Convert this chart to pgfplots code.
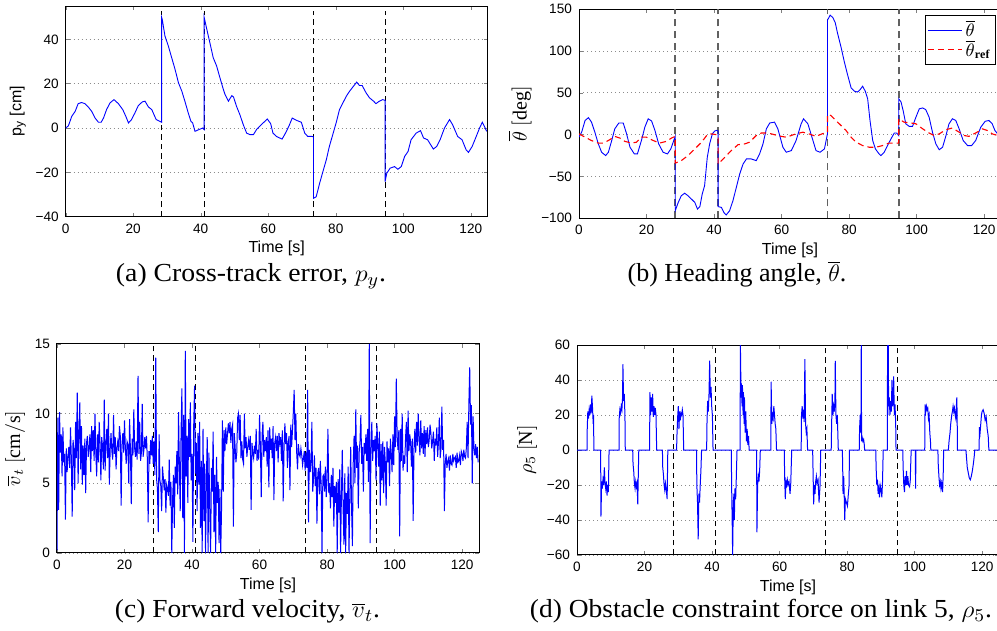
\documentclass[border=0pt]{standalone}
\usepackage{fontspec}
\setmainfont{Liberation Serif}
\newfontfamily\hv{Liberation Sans}
\usepackage{graphicx}
\usepackage{pgfplots}
\pgfplotsset{compat=1.18}
\pgfplotsset{mstyle/.style={
  scale only axis, width=211pt, xmin=0, xmax=125, xtick={0,20,...,120},
  tick align=inside, major tick length=2pt,
  ymajorgrids, grid style={dash pattern=on 0.5pt off 1.5pt, black!45, line width=0.4pt},
  axis line style={line width=0.5pt},
  tick label style={font=\hv\fontsize{6.8}{8}\selectfont},
  /pgf/number format/assume math mode=true,
  xlabel={\hv\fontsize{8}{9}\selectfont Time [s]},
  xlabel style={yshift=3pt},
  anchor=south west, clip=true,
  every axis plot/.append style={line width=0.45pt},
}, vl/.style={black, line width=0.5pt, dash pattern=on 2.8pt off 2pt},
   gl/.style={black!62, line width=0.8pt, dash pattern=on 3.5pt off 2.5pt, forget plot},
   bl/.style={blue, line width=0.45pt}}
\tikzset{capt/.style={anchor=base, font=\fontsize{13}{15}\selectfont}}
\begin{document}
\begin{tikzpicture}
\path[use as bounding box] (0pt,0pt) rectangle (498.5pt,315.5pt);
% ---------------- (a)
\begin{axis}[mstyle, at={(32.85pt,207.15pt)}, height=105.3pt, ymin=-40, ymax=55,
  ytick={-40,-20,0,20,40}, yticklabels={−40,−20,0,20,40},
  ylabel={\hv\fontsize{8}{9}\selectfont p\textsubscript{y} [cm]}, ylabel style={yshift=-2pt}]
\addplot[vl] coordinates {(28.4,-40)(28.4,53)};
\addplot[vl] coordinates {(41.0,-40)(41.0,53)};
\addplot[vl] coordinates {(73.4,-40)(73.4,53)};
\addplot[vl] coordinates {(94.6,-40)(94.6,53)};
\addplot[bl] coordinates {(0,0)(0.8,1)(1.8,5.3)(2.8,7.5)(3.7,11)(4.7,11.5)(5.7,11)(6.7,9.5)(7.7,7.5)(8.7,4.5)(9.7,2.6)(10.5,2.6)(11.2,4.5)(12.1,8.3)(13.1,11.3)(14.3,12.8)(15.6,11)(16.9,8.3)(17.8,5.3)(18.6,2.3)(19.5,3.8)(20.5,6.8)(21.5,10.1)(22.7,11.8)(23.5,12.1)(24.5,9.5)(25.5,8.3)(26.8,3.8)(27.9,3.0)(28.4,2.6)
(28.4,50)(28.6,49)(29.4,41.5)(30.4,37)(31.4,31.7)(32.4,26.4)(33.4,20.4)(34.4,16.6)(35.3,12.1)(36.3,6.8)(37.1,3)(37.6,2.3)(38.3,-1.5)(39,-1)(39.8,-0.5)(40.6,0)(41.0,-0.7)
(41.0,50)(41.8,44.5)(42.7,38.5)(43.7,31.7)(44.7,28)(45.7,22.6)(46.7,17.4)(47.2,15.1)(48.2,12.1)(49.2,14.6)(49.7,14)(50.6,9.8)(51.6,6)(52.6,1.5)(53.6,-2.3)(54.6,-3)(55.6,-3)(56.6,-0.5)(57.6,1)(58.7,2.6)(59.7,4.1)(60.7,2)(61.4,-2.3)(62.4,-3.8)(64.1,-5)(65.1,-2.3)(66.1,0.8)(67.1,4.5)(68.3,3.5)(69.8,2.6)(70.8,-2.3)(71.7,-3.8)(73,-3.8)(73.4,-4)
(73.4,-31.7)(74.2,-31)(75.2,-25)(76.2,-19.6)(77.2,-14.3)(78.1,-8.3)(79.1,-3)(80.1,2.3)(81.1,8.3)(82.1,11.3)(83.1,14.3)(84.1,16.6)(85.1,18.6)(86.2,20.7)(87,19.2)(87.8,19.2)(89,15.8)(90,13.6)(91.2,12.1)(91.9,11)(92.9,12.1)(93.9,12.8)(94.6,12.5)
(94.6,-24.2)(95.1,-20.4)(96.1,-18.1)(97.4,-17.4)(98.4,-18.6)(99.4,-17.4)(100.4,-12.8)(101.4,-10.6)(102.3,-5.3)(103.8,-2.3)(105.1,-1.2)(106,-4.5)(107.2,-5.3)(108.9,-9.5)(109.9,-8.3)(110.9,-5.3)(112.2,0)(113.7,3.8)(114.6,1.5)(116.1,-3.8)(117.4,-5.3)(118.6,-9.8)(119.3,-11)(120.4,-8.3)(121.6,-3.8)(122.6,0)(123.4,2.6)(124,0.8)(124.7,-1.5)};
\end{axis}
% ---------------- (b)
\begin{axis}[mstyle, at={(289.5pt,206.35pt)}, height=104.5pt, ymin=-100, ymax=150,
  ytick={-100,-50,0,50,100,150}, yticklabels={−100,−50,0,50,100,150},
  ylabel={\fontsize{10}{12}\selectfont $\overline{\theta}\ [\mathrm{deg}]$}, ylabel style={yshift=-2pt},
  legend style={at={(1,1)}, anchor=north east, xshift=-2.5pt, yshift=-2.8pt, line width=0.5pt,
    font=\fontsize{9}{9}\selectfont, row sep=-3pt, inner sep=1pt, nodes={inner sep=1.5pt}},
  legend cell align=left]
\addplot[gl] coordinates {(28.5,-100)(28.5,150)};
\addplot[gl] coordinates {(41.2,-100)(41.2,150)};
\addplot[gl] coordinates {(73.6,-100)(73.6,150)};
\addplot[gl] coordinates {(94.7,-100)(94.7,150)};
\addplot[bl, forget plot] coordinates {(0,-2.8)(0.8,3.2)(1.8,17)(2.8,20.4)(3.7,15)(4.7,3)(5.7,-10.8)(6.7,-21)(7.9,-25)(8.7,-21)(9.7,-6.8)(10.6,7)(11.8,14)(13.1,14)(14.1,1)(15.1,-15)(16.4,-23)(17.3,-23)(18.5,-6.8)(19.5,9)(20.5,19)(21.5,16.4)(22.5,5)(23.6,-11)(24.9,-21)(26.2,-23)(27.2,-17)(28.5,-2)
(28.5,-91)(29.4,-81)(30.3,-73)(31.3,-70)(32.3,-73)(33.3,-77)(34.3,-81)(35.1,-89)(35.8,-86)(36.5,-71)(37.2,-61)(38.0,-27)(38.7,-11)(39.5,1)(40.2,4.4)(40.8,5.2)(41.2,4.4)
(41.2,-86)(42.2,-87)(42.9,-93)(43.6,-96)(44.6,-91)(45.6,-79)(46.6,-63)(47.6,-47)(48.6,-35)(49.6,-29)(51,-29)(52.5,-31)(53.5,-23)(54.5,-11)(55.5,7)(56.5,14)(57.9,15)(58.9,7)(60.4,-15)(61.4,-21)(62.9,-19)(64.3,-7)(65.8,13)(66.5,19)(67.8,13)(69.3,-7)(70.2,-19)(71.4,-21)(72.7,-17)(73.6,1)
(73.6,137)(74.4,143)(75.2,140)(75.9,134)(76.6,121)(77.6,105)(78.6,87)(79.6,71)(80.6,56)(81.6,52)(82.5,51)(83.3,54)(84.0,58)(84.8,52)(85.5,43)(86.2,17)(87,-7)(87.8,-17)(88.7,-22)(89.4,-25)(90.4,-21)(91.4,-13)(92.4,-5)(93.4,2)(94.1,2)(94.7,-1)
(94.7,43)(95.4,39)(96.0,29)(96.8,13)(97.8,10)(98.8,10)(99.8,21)(100.8,31)(101.8,32)(102.7,30)(103.7,21)(104.7,3)(105.7,-11)(106.7,-18)(107.7,-15)(108.7,-1)(109.6,13)(110.6,19)(111.6,17)(112.6,7)(113.8,-7)(115.1,-13)(116.3,-13)(117.5,-7)(119,9)(120.3,16)(121.4,17)(122.4,13)(123.2,5)(124,1)};
\addplot[red, line width=0.55pt, dash pattern=on 3pt off 2pt, forget plot] coordinates {(0,1)(1.8,-3)(3.7,-7)(5.7,-10)(7.2,-10)(8.7,-7)(10.6,-2)(12.1,-4)(13.6,-8)(15.6,-10)(17,-9)(18.5,-3)(20,-3)(22,-7)(23.9,-10)(25.9,-8)(27.4,-4)(28.5,-2)
(28.5,-34)(30.3,-31)(32.3,-25)(34.3,-17)(36.3,-9)(38.0,0)(39.2,1)(40.7,0)(41.2,-1)
(41.2,-35)(43.2,-27)(45.1,-19)(47.1,-12)(49.1,-11)(50.5,-9)(52.5,-1)(54,2)(56,2)(57.9,0)(59.9,-2)(61.4,-3)(64.3,1)(66.3,3)(68.1,1)(70.2,-2)(72,1)(73.6,3)
(73.6,24)(74.6,23)(76.1,17)(77.6,11)(79.1,5)(80.6,-3)(82.1,-9)(84,-13)(86,-15)(88,-15)(89.9,-13)(91.9,-10)(93.9,-10)(94.7,-10)
(94.7,19)(96.3,15)(98.3,14)(99.8,13)(101.8,7)(103.7,2)(105.2,-1)(106.7,1)(108.7,6)(110.6,8)(112.6,3)(114.1,-1)(115.5,-2)(117.5,2)(119.5,7)(121,5)(122.4,1)(124,-1)};
\addlegendimage{blue, draw=blue, line width=0.45pt}
\addlegendentry{$\overline{\theta}$}
\addlegendimage{red, draw=red, line width=0.65pt, dash pattern=on 3pt off 2pt}
\addlegendentry{$\overline{\theta}_{\mathbf{ref}}$}
\end{axis}
% ---------------- (c)
\begin{axis}[mstyle, at={(28.5pt,39pt)}, height=104.6pt, ymin=0, ymax=15,
  ytick={0,5,10,15},
  ylabel={\fontsize{10}{12}\selectfont $\overline{v}_t\ [\mathrm{cm/s}]$}, ylabel style={yshift=-2pt}]
\addplot[vl] coordinates {(28.5,0)(28.5,15)};
\addplot[vl] coordinates {(41.1,0)(41.1,15)};
\addplot[vl] coordinates {(73.5,0)(73.5,15)};
\addplot[vl] coordinates {(94.7,0)(94.7,15)};
\addplot[blue, line width=0.5pt] coordinates {
(0,0.2)(.25,9.7)(.5,3.1)(.75,10.1)(1,7.2)(1.25,8.5)(1.5,5.5)(1.75,9.0)(2,6.5)(2.25,7.1)(2.5,2.4)(2.75,7.5)(3,5.8)(3.25,6.9)(3.5,7.6)(3.75,6.1)
(4,9.0)(4.25,6.8)(4.5,2.6)(4.75,8.1)(5,7.4)(5.25,4.5)(5.5,9.4)(5.75,6.8)(6,11.5)(6.25,5.0)(6.5,8.7)(6.75,10.8)(7,6.0)(7.25,9.1)(7.5,4.9)(7.75,7.7)
(8,5.6)(8.25,8.2)(8.5,4.3)(8.75,7.9)(9,8.4)(9.25,6.9)(9.5,7.5)(9.75,8.5)(10,5.8)(10.25,9.1)(10.5,7.3)(10.75,8.8)(11,6.6)(11.25,10.0)(11.5,7.2)(11.75,5.5)
(12,8.5)(12.25,6.5)(12.5,9.4)(12.75,7.9)(13,5.2)(13.25,8.3)(13.5,7.6)(13.75,6.0)(14,11.0)(14.25,5.9)(14.5,7.8)(14.75,8.9)(15,6.8)(15.25,10.0)(15.5,4.9)(15.75,7.4)
(16,8.6)(16.25,7.3)(16.5,6.7)(16.75,9.9)(17,7.1)(17.25,8.3)(17.5,6.0)(17.75,7.6)(18,8.0)(18.25,7.3)(18.5,9.1)(18.75,8.4)(19,3.4)(19.25,7.8)(19.5,8.6)(19.75,7.2)
(20,9.5)(20.25,7.5)(20.5,6.4)(20.75,8.0)(21,7.8)(21.25,5.0)(21.5,9.6)(21.75,7.4)(22,3.5)(22.25,8.2)(22.5,7.0)(22.75,10.3)(23,7.5)(23.25,6.9)(23.5,8.0)(23.75,6.7)
(24,12.7)(24.25,7.1)(24.5,9.4)(24.75,6.6)(25,7.2)(25.25,10.7)(25.5,6.9)(25.75,7.4)(26,8.3)(26.25,7.5)(26.5,8.4)(26.75,6.8)(27,2.2)(27.25,7.3)(27.5,6.4)(27.75,8.1)
(28,7.0)(28.25,8.4)(28.5,6.4)(28.75,8.0)(29,5.6)(29.25,14.0)(29.5,5.3)(29.75,4.6)(30,1.5)(30.25,8.5)(30.5,5.2)(30.75,4.8)(31,3.0)(31.25,6.2)(31.5,5.4)(31.75,4.5)
(32,5.3)(32.25,2.9)(32.5,4.9)(32.75,4.6)(33,4.1)(33.25,6.7)(33.5,3.4)(33.75,5.1)(34,0.0)(34.25,3.9)(34.5,5.6)(34.75,1.8)(35,6.2)(35.25,5.0)(35.5,7.3)(35.75,4.2)
(36,10.1)(36.25,6.3)(36.5,3.0)(36.75,8.7)(37,11.8)(37.25,2.5)(37.5,9.9)(37.75,0.0)(38,14.5)(38.25,5.5)(38.5,8.4)(38.75,3.6)(39,9.6)(39.25,6.9)(39.5,10.8)(39.75,5.2)
(40,7.1)(40.25,0.8)(40.5,9.2)(40.75,12.0)(41,5.7)(41.25,7.9)(41.5,3.0)(41.75,8.6)(42,4.9)(42.25,9.4)(42.5,1.8)(42.75,6.6)(43,0.0)(43.25,8.9)(43.5,2.3)(43.75,6.4)
(44,0.0)(44.25,5.3)(44.5,8.3)(44.75,0.0)(45,7.2)(45.25,3.1)(45.5,0.0)(45.75,6.1)(46,4.4)(46.25,8.7)(46.5,1.5)(46.75,5.6)(47,0.0)(47.25,6.9)(47.5,3.6)(47.75,5.1)
(48,0.7)(48.25,4.6)(48.5,0.0)(48.75,3.3)(49,9.5)(49.25,4.4)(49.5,8.8)(49.75,7.3)(50,9.0)(50.25,7.8)(50.5,8.5)(50.75,9.3)(51,8.6)(51.25,9.4)(51.5,7.9)(51.75,8.9)
(52,9.2)(52.25,1.9)(52.5,8.6)(52.75,7.7)(53,6.5)(53.25,7.2)(53.5,9.7)(53.75,10.0)(54,8.1)(54.25,9.9)(54.5,6.8)(54.75,8.0)(55,6.7)(55.25,6.4)(55.5,10.0)(55.75,7.5)
(56,8.3)(56.25,6.9)(56.5,7.6)(56.75,8.1)(57,7.4)(57.25,8.4)(57.5,3.1)(57.75,7.9)(58,7.2)(58.25,6.8)(58.5,7.7)(58.75,7.1)(59,8.9)(59.25,6.6)(59.5,7.4)(59.75,6.7)
(60,9.9)(60.25,7.6)(60.5,4.0)(60.75,8.5)(61,9.4)(61.25,6.9)(61.5,8.1)(61.75,7.3)(62,8.3)(62.25,6.2)(62.5,8.8)(62.75,4.7)(63,9.0)(63.25,7.4)(63.5,8.2)(63.75,6.8)
(64,9.1)(64.25,3.8)(64.5,7.9)(64.75,8.3)(65,7.3)(65.25,8.4)(65.5,6.5)(65.75,8.6)(66,7.9)(66.25,8.3)(66.5,6.6)(66.75,8.8)(67,3.7)(67.25,7.5)(67.5,9.3)(67.75,7.8)
(68,8.6)(68.25,6.1)(68.5,7.9)(68.75,8.4)(69,4.5)(69.25,9.2)(69.5,7.6)(69.75,8.8)(70,10.1)(70.25,11.7)(70.5,8.1)(70.75,10.0)(71,7.2)(71.25,6.0)(71.5,7.8)(71.75,7.1)
(72,6.9)(72.25,7.5)(72.5,7.0)(72.75,6.3)(73,6.8)(73.25,7.3)(73.5,5.9)(73.75,7.2)(74,6.1)(74.25,11.7)(74.5,2.2)(74.75,7.4)(75,5.8)(75.25,6.5)(75.5,9.4)(75.75,4.4)
(76,5.4)(76.25,7.0)(76.5,4.8)(76.75,6.1)(77,2.1)(77.25,5.7)(77.5,6.1)(77.75,4.2)(78,6.6)(78.25,4.9)(78.5,0.0)(78.75,5.5)(79,5.6)(79.25,4.4)(79.5,6.2)(79.75,4.0)
(80,5.3)(80.25,8.9)(80.5,4.3)(80.75,5.0)(81,3.2)(81.25,5.6)(81.5,4.0)(81.75,6.1)(82,1.9)(82.25,4.8)(82.5,3.6)(82.75,5.1)(83,0.0)(83.25,5.3)(83.5,2.9)(83.75,6.0)
(84,0.0)(84.25,4.2)(84.5,7.4)(84.75,3.2)(85,0.6)(85.25,5.7)(85.5,0.0)(85.75,4.3)(86,2.8)(86.25,6.2)(86.5,0.0)(86.75,4.1)(87,7.6)(87.25,3.3)(87.5,0.5)(87.75,6.5)
(88,8.4)(88.25,5.0)(88.5,10.3)(88.75,6.1)(89,7.7)(89.25,3.2)(89.5,7.2)(89.75,8.0)(90,9.9)(90.25,6.4)(90.5,7.6)(90.75,4.4)(91,7.9)(91.25,7.1)(91.5,8.5)(91.75,6.6)
(92,8.9)(92.25,5.1)(92.5,15.0)(92.75,0.7)(93,7.5)(93.25,9.4)(93.5,6.6)(93.75,8.1)(94,7.3)(94.25,8.4)(94.5,5.2)(94.75,9.3)(95,7.9)(95.25,6.2)(95.5,8.7)(95.75,3.4)
(96,7.8)(96.25,5.2)(96.5,8.0)(96.75,4.3)(97,7.6)(97.25,6.5)(97.5,3.4)(97.75,8.0)(98,6.5)(98.25,7.5)(98.5,4.8)(98.75,8.2)(99,7.2)(99.25,5.8)(99.5,8.5)(99.75,6.3)
(100,9.8)(100.25,7.6)(100.5,12.5)(100.75,8.4)(101,7.4)(101.25,8.8)(101.5,1.2)(101.75,8.9)(102,6.6)(102.25,10.0)(102.5,5.9)(102.75,7.0)(103,6.4)(103.25,8.3)(103.5,9.4)(103.75,5.8)
(104,10.2)(104.25,7.3)(104.5,8.5)(104.75,7.9)(105,6.2)(105.25,8.2)(105.5,2.3)(105.75,7.6)(106,8.9)(106.25,7.2)(106.5,9.4)(106.75,7.7)(107,10.0)(107.25,8.2)(107.5,7.0)(107.75,9.5)
(108,7.5)(108.25,8.6)(108.5,7.1)(108.75,9.1)(109,6.9)(109.25,8.8)(109.5,7.8)(109.75,9.0)(110,7.6)(110.25,8.1)(110.5,9.2)(110.75,8.6)(111,7.5)(111.25,8.0)(111.5,8.7)(111.75,6.6)
(112,8.2)(112.25,7.7)(112.5,9.0)(112.75,6.9)(113,8.0)(113.25,9.7)(113.5,6.8)(113.75,7.5)(114,10.5)(114.25,7.4)(114.5,8.1)(114.75,3.0)(115,6.4)(115.25,7.1)(115.5,6.1)(115.75,6.6)
(116,6.8)(116.25,5.9)(116.5,7.0)(116.75,6.4)(117,6.3)(117.25,7.1)(117.5,6.6)(117.75,6.8)(118,6.9)(118.25,6.1)(118.5,7.2)(118.75,6.5)(119,6.6)(119.25,7.0)(119.5,6.3)(119.75,7.3)
(120,7.1)(120.25,6.6)(120.5,7.4)(120.75,6.9)(121,6.8)(121.25,7.5)(121.5,9.4)(121.75,6.8)(122,10.7)(122.25,13.3)(122.5,9.2)(122.75,10.6)(123,5.0)(123.25,9.8)(123.5,7.5)(123.75,7.0)
(124,7.8)(124.25,6.8)(124.5,7.6)(124.75,6.5)};
\end{axis}
% ---------------- (d)
\begin{axis}[mstyle, at={(288.5pt,38pt)}, height=105pt, ymin=-60, ymax=60,
  ytick={-60,-40,...,60}, yticklabels={−60,−40,−20,0,20,40,60},
  ylabel={\fontsize{10}{12}\selectfont $\rho_5\ [\mathrm{N}]$}, ylabel style={yshift=-2pt}]
\addplot[vl] coordinates {(28.5,-60)(28.5,60)};
\addplot[vl] coordinates {(40.9,-60)(40.9,60)};
\addplot[vl] coordinates {(73.5,-60)(73.5,60)};
\addplot[vl] coordinates {(94.8,-60)(94.8,60)};
\addplot[blue, line width=0.5pt] coordinates {(0,0)(3.0,0)(3.0,10)(3.2,22)(3.4,18)(3.6,23)(3.8,20)(4.0,26)(4.2,21)(4.4,31)(4.6,24)(4.8,15)(4.9,20)(5.0,0)
(7.0,0)(7.1,-38)(7.3,-18)(7.5,-22)(7.7,-17)(7.9,-20)(8.1,-10)(8.3,-19)(8.5,-22)(8.7,-18)(8.9,-26)(9.1,-20)(9.3,-24)(9.5,0)
(12.5,0)(12.5,18)(12.7,23)(12.9,21)(13.1,25)(13.3,23)(13.5,30)(13.6,49)(13.8,28)(14.0,32)(14.2,20)(14.3,0)
(16.5,0)(16.6,-8)(16.8,-12)(17.0,-19)(17.2,-22)(17.4,-18)(17.6,-21)(17.8,-19)(18.0,-31)(18.1,-20)(18.3,0)
(21.5,0)(21.6,33)(21.8,20)(22.0,30)(22.2,22)(22.4,32)(22.6,19)(22.8,25)(23.0,20)(23.2,24)(23.4,20)(23.6,0)
(25.3,0)(25.4,-10)(25.6,-14)(25.8,-20)(26.0,-23)(26.2,-19)(26.4,-22)(26.7,-28)(26.9,0)
(29.5,0)(29.6,8)(29.8,18)(30.0,25)(30.2,12)(30.4,22)(30.6,17)(30.8,21)(31.0,20)(31.2,23)(31.4,20)(31.6,0)
(35.4,0)(35.5,-20)(35.7,-30)(35.9,-51)(36.1,-25)(36.3,-30)(36.5,-20)(36.7,-12)(36.9,0)
(38.4,0)(38.5,15)(38.7,28)(38.9,22)(39.1,32)(39.3,51)(39.5,30)(39.7,36)(39.9,25)(40.1,20)(40.3,0)
(45.7,0)(45.8,-20)(46.0,-45)(46.1,-60)(46.3,-30)(46.5,-25)(46.6,-40)(46.8,-22)(47.0,-28)(47.2,-15)(47.4,0)
(48.3,0)(48.4,60)(48.6,30)(48.7,38)(48.9,25)(49.0,37)(49.2,20)(49.3,33)(49.5,15)(49.6,30)(49.8,10)(50.0,22)(50.2,5)(50.4,12)(50.6,3)(50.8,8)(51.0,0)
(53.2,0)(53.3,-47)(53.5,-20)(53.7,-15)(53.9,-18)(54.1,-12)(54.3,0)
(57.4,0)(57.5,39)(57.7,15)(57.9,20)(58.1,18)(58.3,25)(58.5,20)(58.7,15)(58.9,12)(59.1,0)
(61.4,0)(61.5,-15)(61.7,-28)(61.9,-18)(62.1,-20)(62.3,-17)(62.5,-20)(62.8,-18)(63.1,-25)(63.3,-20)(63.6,0)
(66.4,0)(66.5,20)(66.7,25)(66.9,18)(67.1,23)(67.3,16)(67.5,52)(67.7,15)(67.9,10)(68.1,12)(68.3,0)
(69.8,0)(69.9,-10)(70.1,-31)(70.3,-20)(70.5,-25)(70.7,-18)(70.9,-15)(71.1,-19)(71.4,-17)(71.7,-30)(72.0,-20)(72.2,0)
(75.3,0)(75.4,12)(75.6,32)(75.8,20)(76.0,25)(76.2,22)(76.4,28)(76.5,51)(76.7,20)(76.9,15)(77.1,20)(77.4,0)
(78.6,0)(78.7,-10)(78.8,-25)(79.0,-15)(79.2,-30)(79.3,-40)(79.5,-28)(79.8,-30)(80.1,-32)(80.3,-27)(80.6,-20)(80.7,0)
(83.6,0)(83.7,12)(83.9,20)(84.1,10)(84.2,60)(84.3,5)(84.5,7)(84.7,5)(84.9,6)(85.1,3)(85.2,0)
(88.5,0)(88.6,-10)(88.8,-20)(89.0,-17)(89.2,-25)(89.4,-22)(89.6,-27)(89.8,-20)(90.0,-22)(90.3,-27)(90.5,-18)(90.7,0)
(91.9,0)(92.0,60)(92.1,20)(92.2,60)(92.3,25)(92.5,30)(92.7,20)(92.9,28)(93.1,22)(93.3,40)(93.5,25)(93.7,30)(93.8,42)(94.0,20)(94.2,26)(94.4,15)(94.5,0)
(96.5,0)(96.6,-10)(96.8,-20)(97.0,-24)(97.2,-15)(97.4,-20)(97.6,-12)(97.8,-20)(98.0,-15)(98.2,-20)(98.5,-21)(98.7,-18)(98.9,-5)(99.0,0)(100.2,0)(100.3,-22)(100.4,0)
(103.0,0)(103.1,26)(103.3,22)(103.5,25)(103.7,23)(103.9,24)(104.1,18)(104.3,20)(104.5,10)(104.7,5)(104.8,0)
(106.9,0)(107.0,-8)(107.2,-15)(107.4,-20)(107.6,-18)(107.8,-22)(108.0,-19)(108.3,-24)(108.5,-12)(108.6,0)
(110.0,0)(110.2,5)(110.5,10)(110.7,15)(111.0,20)(111.2,22)(111.4,25)(111.6,22)(111.8,24)(112.0,20)(112.2,18)(112.5,30)(112.6,20)(112.7,0)
(115.2,0)(115.4,-5)(115.6,-10)(115.9,-13)(116.2,-16)(116.5,-17)(116.8,-15)(117.1,-12)(117.4,-8)(117.7,-3)(117.8,0)
(119.1,0)(119.2,13)(119.4,10)(119.6,15)(119.8,20)(120.0,22)(120.3,23)(120.6,21)(120.9,17)(121.2,19)(121.5,12)(121.8,8)(122.0,0)(125,0)};
\end{axis}
% captions
\node[capt] at (125.5pt,174.5pt) {\resizebox{135pt}{\height}{(a) Cross-track error, $p_y$.}};
\node[capt] at (368.5pt,174.5pt) {(b) Heading angle, $\overline{\theta}$.};
\node[capt] at (123.75pt,6.5pt) {\resizebox{132.5pt}{\height}{(c) Forward velocity, $\overline{v}_t$.}};
\node[capt] at (380.5pt,6.5pt) {\resizebox{231pt}{\height}{(d) Obstacle constraint force on link 5, $\rho_5$.}};
\end{tikzpicture}
\end{document}
